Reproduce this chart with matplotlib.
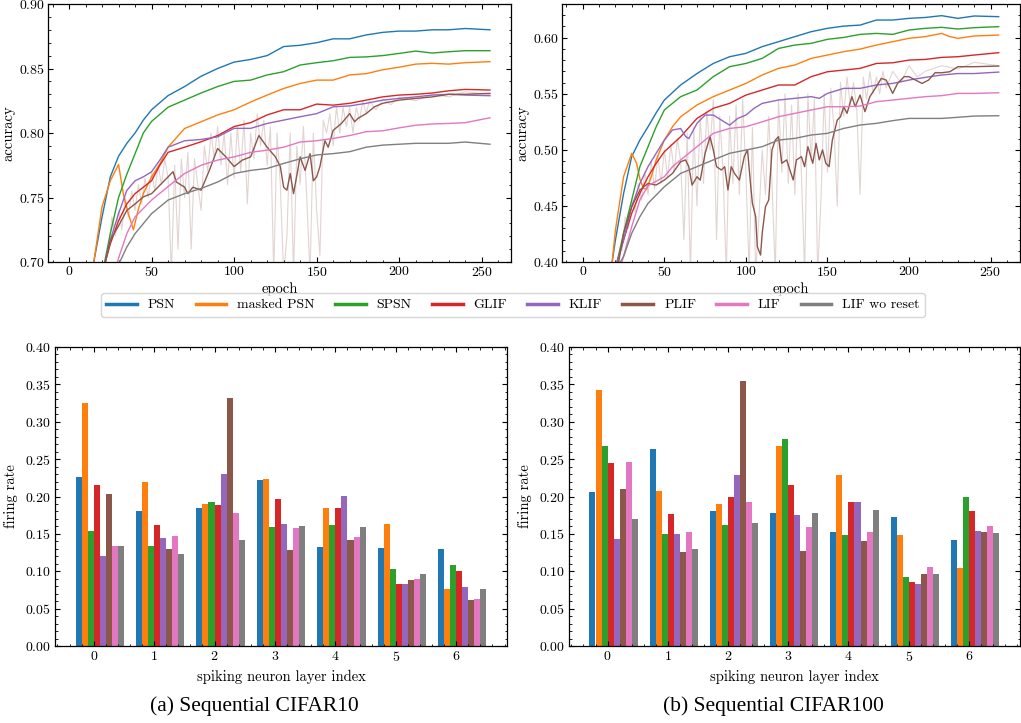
import numpy as np
import matplotlib
matplotlib.use("Agg")
import matplotlib.pyplot as plt
from matplotlib.ticker import AutoMinorLocator, MultipleLocator

plt.rcParams['font.family'] = 'serif'
plt.rcParams['font.serif'] = ['cmr10']
plt.rcParams['mathtext.fontset'] = 'cm'
plt.rcParams['axes.formatter.use_mathtext'] = True
plt.rcParams['axes.unicode_minus'] = False

names = ["PSN", "masked PSN", "SPSN", "GLIF", "KLIF", "PLIF", "LIF", "LIF wo reset"]
colors = ["#1f77b4", "#ff7f0e", "#2ca02c", "#d62728", "#9467bd", "#8c564b", "#e377c2", "#7f7f7f"]

# ---------- Sequential CIFAR10 accuracy (smoothed curves) ----------
ep_a = [15, 20, 25, 30, 35, 40, 45, 50, 60, 70, 80, 90, 100, 110, 120, 130, 140, 150,
        160, 170, 180, 190, 200, 210, 220, 230, 240, 255]
c10_psn = [0.700, 0.735, 0.766, 0.782, 0.792, 0.800, 0.810, 0.818, 0.829, 0.836, 0.844, 0.850,
           0.855, 0.857, 0.860, 0.867, 0.868, 0.870, 0.873, 0.873, 0.876, 0.878, 0.879, 0.879,
           0.880, 0.880, 0.881, 0.880]
c10_spsn = [0.660, 0.690, 0.722, 0.750, 0.768, 0.784, 0.800, 0.809, 0.820, 0.8255, 0.831, 0.836,
            0.840, 0.841, 0.845, 0.8475, 0.8527, 0.8545, 0.856, 0.8586, 0.859, 0.860, 0.8617,
            0.8635, 0.862, 0.863, 0.8638, 0.8638]
ep_m = [15, 20, 25, 30, 33, 36, 39, 42, 45, 50, 55, 60, 70, 80, 90, 100, 110, 120, 130, 140,
        150, 160, 170, 180, 190, 200, 210, 220, 230, 240, 255]
c10_mpsn = [0.700, 0.743, 0.763, 0.7756, 0.752, 0.737, 0.725, 0.741, 0.753, 0.766, 0.776, 0.789,
            0.8035, 0.8087, 0.814, 0.818, 0.824, 0.8294, 0.8345, 0.8384, 0.841, 0.841, 0.845,
            0.846, 0.849, 0.851, 0.8534, 0.854, 0.8534, 0.8545, 0.8553]
ep_b = [20, 22, 25, 30, 35, 40, 45, 50, 55, 60, 70, 80, 90, 100, 110, 120, 130, 140, 150, 160,
        170, 180, 190, 200, 210, 220, 230, 240, 255]
c10_glif = [0.690, 0.700, 0.714, 0.732, 0.745, 0.753, 0.758, 0.763, 0.775, 0.785, 0.789, 0.7932,
            0.798, 0.805, 0.808, 0.814, 0.818, 0.818, 0.8224, 0.8216, 0.823, 0.8255, 0.828,
            0.8294, 0.830, 0.831, 0.8327, 0.8338, 0.8333]
c10_klif = [0.690, 0.700, 0.717, 0.7375, 0.7555, 0.763, 0.766, 0.770, 0.779, 0.789, 0.794, 0.795,
            0.797, 0.8036, 0.8036, 0.8074, 0.810, 0.8126, 0.815, 0.8203, 0.821, 0.823, 0.8255,
            0.8268, 0.828, 0.8294, 0.830, 0.8294, 0.8289]
ep_c = [25, 30, 35, 40, 50, 60, 70, 80, 90, 100, 110, 120, 130, 140, 150, 160, 170, 180, 190,
        200, 210, 220, 230, 240, 255]
c10_lif = [0.680, 0.703, 0.722, 0.735, 0.748, 0.7585, 0.7686, 0.775, 0.779, 0.7815, 0.785, 0.7867,
           0.789, 0.793, 0.794, 0.7958, 0.798, 0.801, 0.8017, 0.804, 0.806, 0.807, 0.8074, 0.808,
           0.8118]
c10_lifwo = [0.670, 0.698, 0.7116, 0.722, 0.7375, 0.748, 0.753, 0.757, 0.762, 0.7686, 0.771,
             0.7725, 0.7764, 0.780, 0.783, 0.784, 0.7855, 0.789, 0.7906, 0.7913, 0.792, 0.792,
             0.792, 0.793, 0.7913]
ep_p10 = [20, 22, 25, 30, 35, 40, 45, 50, 55, 60, 63, 65, 70, 72, 75, 80, 85, 90, 95, 100, 105,
          110, 115, 120, 125, 128, 130, 132, 134, 136, 140, 143, 146, 148, 150, 152, 155, 157,
          160, 165, 170, 173, 175, 180, 185, 190, 200, 210, 220, 230, 240, 255]
c10_plif = [0.690, 0.700, 0.717, 0.728, 0.740, 0.745, 0.7505, 0.753, 0.7595, 0.766, 0.770, 0.762,
            0.758, 0.753, 0.758, 0.7557, 0.771, 0.788, 0.7815, 0.774, 0.779, 0.7815, 0.798,
            0.789, 0.7815, 0.774, 0.758, 0.7557, 0.7686, 0.753, 0.7815, 0.771, 0.784, 0.763,
            0.766, 0.774, 0.794, 0.789, 0.802, 0.8074, 0.815, 0.8087, 0.8113, 0.815, 0.8203,
            0.823, 0.8255, 0.8268, 0.828, 0.830, 0.830, 0.8307]
# raw (unsmoothed) PLIF accuracy, CIFAR10
ep_r10 = [24, 26, 28, 30, 32, 34, 36, 38, 40, 42, 44, 46, 48, 50, 52, 54, 56, 58, 60, 62, 64,
          66, 68, 70, 72, 74, 76, 78, 80, 82, 84, 86, 88, 90, 92, 94, 96, 98, 100, 102, 104,
          106, 108, 110, 112, 114, 116, 118, 120, 122, 124, 126, 128, 130, 132, 134, 136, 138,
          140, 142, 144, 146, 148, 150, 152, 154, 156, 158, 160, 162, 164, 166, 168, 170, 172,
          174, 176, 178, 180, 182, 186, 190, 195, 200, 210, 220, 230, 240, 255]
c10_plif_raw = [0.712, 0.735, 0.720, 0.740, 0.725, 0.750, 0.735, 0.755, 0.740, 0.760, 0.745,
                0.765, 0.750, 0.770, 0.755, 0.775, 0.760, 0.780, 0.765, 0.690, 0.775, 0.710,
                0.780, 0.750, 0.785, 0.710, 0.780, 0.760, 0.740, 0.790, 0.770, 0.800, 0.780,
                0.805, 0.775, 0.800, 0.760, 0.800, 0.765, 0.805, 0.770, 0.810, 0.745, 0.800,
                0.780, 0.815, 0.790, 0.810, 0.775, 0.805, 0.690, 0.800, 0.760, 0.690, 0.720,
                0.800, 0.690, 0.790, 0.760, 0.805, 0.750, 0.690, 0.800, 0.740, 0.705, 0.810,
                0.800, 0.815, 0.790, 0.820, 0.800, 0.820, 0.805, 0.820, 0.800, 0.820, 0.810,
                0.825, 0.815, 0.825, 0.818, 0.826, 0.822, 0.828, 0.825, 0.830, 0.828, 0.832,
                0.830]

# ---------- Sequential CIFAR100 accuracy (smoothed curves) ----------
ep_d = [15, 18, 20, 25, 30, 35, 40, 45, 50, 60, 70, 80, 90, 100, 110, 120, 130, 140, 150, 160,
        170, 180, 190, 200, 210, 220, 230, 240, 255]
c100_psn = [0.380, 0.400, 0.4196, 0.461, 0.494, 0.5087, 0.5206, 0.533, 0.5444, 0.5578, 0.568,
            0.577, 0.583, 0.586, 0.592, 0.5964, 0.6009, 0.6053, 0.6083, 0.6103, 0.6112, 0.6157,
            0.6157, 0.6172, 0.618, 0.6196, 0.6172, 0.6193, 0.6187]
ep_e = [18, 21, 25, 30, 35, 40, 45, 50, 60, 70, 80, 90, 100, 110, 120, 130, 140, 150, 160, 170,
        180, 190, 200, 210, 220, 230, 240, 255]
c100_spsn = [0.385, 0.400, 0.4256, 0.4553, 0.485, 0.5028, 0.5206, 0.5355, 0.5474, 0.5533,
             0.5652, 0.5741, 0.577, 0.5815, 0.5904, 0.5934, 0.5949, 0.5985, 0.6002, 0.6029,
             0.6038, 0.6029, 0.6068, 0.6083, 0.6092, 0.6077, 0.6089, 0.6098]
c100_glif = [0.385, 0.400, 0.4196, 0.4434, 0.4612, 0.476, 0.488, 0.4983, 0.5117, 0.528, 0.537,
             0.5414, 0.5488, 0.5533, 0.5578, 0.5578, 0.5652, 0.5696, 0.5711, 0.5726, 0.577,
             0.5776, 0.580, 0.5806, 0.5824, 0.583, 0.5845, 0.5866]
ep_m2 = [15, 18, 20, 25, 30, 33, 35, 37, 39, 42, 45, 50, 55, 60, 70, 80, 90, 100, 110, 120, 130,
         140, 150, 160, 170, 180, 190, 200, 210, 220, 225, 230, 240, 255]
c100_mpsn = [0.380, 0.400, 0.4285, 0.476, 0.4969, 0.488, 0.474, 0.466, 0.4646, 0.476, 0.491,
             0.5087, 0.5206, 0.5295, 0.540, 0.5474, 0.5533, 0.5592, 0.5667, 0.5726, 0.5756,
             0.5815, 0.5845, 0.5875, 0.5898, 0.5934, 0.5964, 0.5994, 0.6009, 0.6038, 0.6009,
             0.5994, 0.6015, 0.6023]
ep_k2 = [18, 21, 25, 30, 35, 40, 45, 50, 55, 60, 63, 65, 70, 75, 80, 85, 90, 95, 100, 105, 110,
         120, 130, 140, 145, 150, 160, 170, 180, 190, 200, 210, 220, 230, 240, 255]
c100_klif = [0.385, 0.400, 0.4196, 0.4493, 0.4701, 0.485, 0.497, 0.5087, 0.5177, 0.519, 0.512,
             0.510, 0.5236, 0.531, 0.531, 0.5265, 0.522, 0.528, 0.531, 0.537, 0.5414, 0.5444,
             0.5459, 0.5474, 0.5459, 0.5503, 0.5548, 0.5548, 0.5578, 0.5592, 0.5622, 0.5646,
             0.5667, 0.568, 0.568, 0.5693]
ep_f = [20, 24, 30, 35, 40, 50, 55, 60, 70, 80, 90, 100, 110, 120, 130, 140, 150, 160, 170,
        180, 190, 200, 210, 220, 230, 240, 255]
c100_lif = [0.385, 0.400, 0.4315, 0.4553, 0.4680, 0.476, 0.485, 0.491, 0.5028, 0.5147, 0.5191,
            0.5206, 0.525, 0.5295, 0.5325, 0.5355, 0.5384, 0.5384, 0.539, 0.5429, 0.5444, 0.5459,
            0.5474, 0.5483, 0.5503, 0.5503, 0.5509]
ep_g = [20, 23, 25, 30, 35, 40, 50, 60, 70, 80, 90, 100, 110, 120, 130, 140, 150, 160, 170, 180,
        190, 200, 210, 220, 230, 240, 255]
c100_lifwo = [0.385, 0.400, 0.4048, 0.4256, 0.4404, 0.4523, 0.4671, 0.479, 0.485, 0.491, 0.4969,
              0.4998, 0.5028, 0.5087, 0.5102, 0.5132, 0.5147, 0.5191, 0.5221, 0.5236, 0.526,
              0.528, 0.528, 0.528, 0.529, 0.5301, 0.5304]
ep_p100 = [18, 22, 25, 30, 35, 40, 45, 50, 55, 60, 63, 65, 67, 70, 72, 75, 78, 80, 82, 85, 87,
           89, 91, 93, 96, 99, 101, 103, 104, 106, 107, 109, 110, 112, 114, 116, 118, 120, 122,
           125, 127, 129, 131, 134, 136, 138, 141, 143, 145, 147, 149, 151, 153, 156, 158, 160,
           162, 165, 167, 170, 173, 176, 180, 183, 186, 190, 193, 197, 200, 204, 208, 212, 216,
           220, 225, 230, 240, 255]
c100_plif = [0.385, 0.400, 0.4256, 0.4493, 0.4642, 0.470, 0.4686, 0.4731, 0.479, 0.4894, 0.491,
             0.485, 0.4686, 0.476, 0.473, 0.4969, 0.5117, 0.500, 0.485, 0.482, 0.485, 0.4642,
             0.485, 0.479, 0.4731, 0.4939, 0.500, 0.467, 0.4523, 0.4404, 0.4137, 0.4062, 0.4256,
             0.4493, 0.4553, 0.4999, 0.5087, 0.5117, 0.488, 0.491, 0.482, 0.4731, 0.491, 0.4939,
             0.485, 0.5028, 0.488, 0.5058, 0.491, 0.500, 0.488, 0.485, 0.5087, 0.5265, 0.5295,
             0.5384, 0.5325, 0.5474, 0.5384, 0.5488, 0.534, 0.5474, 0.5563, 0.5637, 0.5622,
             0.5503, 0.5592, 0.5652, 0.5652, 0.5622, 0.5592, 0.5622, 0.5687, 0.5687, 0.5696,
             0.5741, 0.5741, 0.5747]
# raw (unsmoothed) PLIF accuracy, CIFAR100
ep_r100 = [24, 26, 28, 30, 32, 34, 36, 38, 40, 42, 44, 46, 48, 50, 52, 54, 56, 58, 60, 62, 64,
           66, 68, 70, 72, 74, 76, 78, 80, 82, 84, 86, 88, 90, 92, 94, 96, 98, 100, 102, 104,
           106, 108, 110, 112, 114, 116, 118, 120, 122, 124, 126, 128, 130, 132, 134, 136, 138,
           140, 142, 144, 146, 148, 150, 152, 154, 156, 158, 160, 162, 164, 166, 168, 170, 172,
           174, 176, 178, 180, 182, 184, 186, 190, 195, 200, 205, 210, 220, 230, 240, 255]
c100_plif_raw = [0.410, 0.440, 0.430, 0.455, 0.445, 0.470, 0.455, 0.480, 0.460, 0.490, 0.465,
                 0.495, 0.470, 0.500, 0.475, 0.505, 0.480, 0.510, 0.490, 0.420, 0.515, 0.390,
                 0.520, 0.450, 0.530, 0.470, 0.535, 0.500, 0.545, 0.420, 0.530, 0.480, 0.390,
                 0.530, 0.470, 0.540, 0.460, 0.545, 0.480, 0.390, 0.520, 0.390, 0.440, 0.500,
                 0.460, 0.530, 0.470, 0.390, 0.545, 0.480, 0.550, 0.470, 0.540, 0.460, 0.550,
                 0.480, 0.390, 0.550, 0.490, 0.545, 0.390, 0.455, 0.550, 0.480, 0.555, 0.520,
                 0.450, 0.560, 0.530, 0.565, 0.540, 0.560, 0.535, 0.460, 0.565, 0.545, 0.570,
                 0.550, 0.565, 0.550, 0.570, 0.555, 0.570, 0.560, 0.575, 0.565, 0.570, 0.575,
                 0.572, 0.578, 0.575]

# ---------- firing rates per spiking neuron layer ----------
layers = [0, 1, 2, 3, 4, 5, 6]
fr_c10 = {
    "PSN":          [0.226, 0.181, 0.184, 0.222, 0.133, 0.131, 0.130],
    "masked PSN":   [0.325, 0.220, 0.190, 0.224, 0.185, 0.163, 0.076],
    "SPSN":         [0.154, 0.134, 0.192, 0.159, 0.162, 0.103, 0.109],
    "GLIF":         [0.216, 0.162, 0.189, 0.196, 0.185, 0.083, 0.100],
    "KLIF":         [0.121, 0.145, 0.230, 0.163, 0.201, 0.083, 0.079],
    "PLIF":         [0.204, 0.130, 0.332, 0.129, 0.142, 0.088, 0.062],
    "LIF":          [0.134, 0.147, 0.178, 0.158, 0.146, 0.090, 0.063],
    "LIF wo reset": [0.134, 0.123, 0.142, 0.161, 0.159, 0.096, 0.076],
}
fr_c100 = {
    "PSN":          [0.206, 0.263, 0.181, 0.178, 0.153, 0.173, 0.142],
    "masked PSN":   [0.343, 0.208, 0.190, 0.267, 0.229, 0.149, 0.105],
    "SPSN":         [0.267, 0.150, 0.162, 0.277, 0.149, 0.092, 0.200],
    "GLIF":         [0.245, 0.177, 0.200, 0.216, 0.193, 0.086, 0.180],
    "KLIF":         [0.143, 0.150, 0.229, 0.175, 0.193, 0.083, 0.154],
    "PLIF":         [0.210, 0.126, 0.354, 0.127, 0.141, 0.096, 0.153],
    "LIF":          [0.246, 0.153, 0.192, 0.159, 0.153, 0.106, 0.161],
    "LIF wo reset": [0.170, 0.130, 0.164, 0.178, 0.182, 0.096, 0.151],
}

c10_curves = [(ep_a, c10_psn), (ep_m, c10_mpsn), (ep_a, c10_spsn), (ep_b, c10_glif),
              (ep_b, c10_klif), (ep_p10, c10_plif), (ep_c, c10_lif), (ep_c, c10_lifwo)]
c100_curves = [(ep_d, c100_psn), (ep_m2, c100_mpsn), (ep_e, c100_spsn), (ep_e, c100_glif),
               (ep_k2, c100_klif), (ep_p100, c100_plif), (ep_f, c100_lif), (ep_g, c100_lifwo)]

W, H = 1021, 723
fig = plt.figure(figsize=(W / 100, H / 100), dpi=100)


def px_axes(l, r, t, b):
    return fig.add_axes([l / W, 1 - b / H, (r - l) / W, (b - t) / H])


def style(ax, pad):
    ax.tick_params(which='both', direction='in', top=True, right=True, labelsize=10, pad=pad)
    ax.tick_params(which='major', length=3.5, width=0.8)
    ax.tick_params(which='minor', length=1.8, width=0.6)
    ax.xaxis.set_minor_locator(AutoMinorLocator())
    ax.yaxis.set_minor_locator(AutoMinorLocator())
    for s in ax.spines.values():
        s.set_linewidth(0.9)


ax1 = px_axes(48, 511, 4, 262)
ax2 = px_axes(562, 1019.5, 4, 262)
ax3 = px_axes(55, 507, 347, 646)
ax4 = px_axes(569, 1019.5, 347, 646)

lines = []
for ax, curves, raw_ep, raw, ylim, yt in [
        (ax1, c10_curves, ep_r10, c10_plif_raw, (0.70, 0.90), 0.05),
        (ax2, c100_curves, ep_r100, c100_plif_raw, (0.40, 0.63), 0.05)]:
    ax.plot(raw_ep, raw, color=colors[5], alpha=0.25, lw=0.8)
    lines = []
    for (ep, acc), c, n in zip(curves, colors, names):
        l, = ax.plot(ep, acc, color=c, lw=1.0, label=n)
        lines.append(l)
    ax.set_xlim(-12.75, 267.75)
    ax.set_ylim(*ylim)
    ax.xaxis.set_major_locator(MultipleLocator(50))
    ax.yaxis.set_major_locator(MultipleLocator(yt))
    style(ax, 2)
    ax.set_xlabel("epoch", fontsize=10.5, labelpad=2.5)
    ax.set_ylabel("accuracy", fontsize=10.5, labelpad=3)

width = 0.1
for ax, fr in [(ax3, fr_c10), (ax4, fr_c100)]:
    x = np.array(layers)
    for j, (n, c) in enumerate(zip(names, colors)):
        ax.bar(x + (j - 3) * width, fr[n], width=width, align='edge', color=c)
    ax.set_ylim(0, 0.40)
    ax.set_xticks(layers)
    ax.yaxis.set_major_locator(MultipleLocator(0.05))
    style(ax, 3)
    ax.set_xlabel("spiking neuron layer index", fontsize=10.5, labelpad=4)
    ax.set_ylabel("firing rate", fontsize=10.5, labelpad=5)

leg = fig.legend(handles=lines, loc='center', bbox_to_anchor=(513 / W, 1 - 305 / H),
                 ncol=8, fontsize=10, frameon=True, fancybox=True, edgecolor='#cccccc',
                 columnspacing=1.45, handlelength=2.2, borderpad=0.4)
for h in leg.legend_handles:
    h.set_linewidth(2.5)

fig.text(254 / W, 1 - 706 / H, "(a) Sequential CIFAR10", ha='center', va='center',
         fontsize=15.5, family='Liberation Serif')
fig.text(773 / W, 1 - 706 / H, "(b) Sequential CIFAR100", ha='center', va='center',
         fontsize=15.5, family='Liberation Serif')

fig.savefig("out.png", dpi=100)
